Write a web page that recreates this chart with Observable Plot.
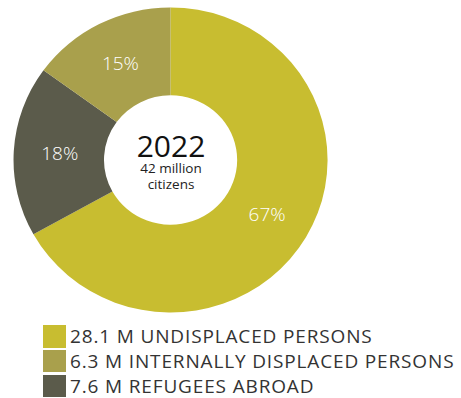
<!DOCTYPE html>
<html>
<head>
<meta charset="utf-8">
<script src="https://cdn.jsdelivr.net/npm/d3@7"></script>
<script src="https://cdn.jsdelivr.net/npm/@observablehq/plot@0.6"></script>
<style>
  html, body { margin: 0; padding: 0; background: #fff; }
  #chart { width: 461px; }
  .legend { margin: 6px 0 0 43px; font-family: "Open Sans", sans-serif; font-size: 19px; color: #333; }
  .legend .row { display: flex; align-items: center; height: 24.8px; }
  .legend .sw { width: 23px; height: 22.5px; margin-right: 4px; flex: none; }
  .legend .lab { white-space: nowrap; letter-spacing: 0.85px; }
</style>
</head>
<body>
<div id="chart"></div>
<script>
// Data (clockwise from 12 o'clock)
const categories = ["UNDISPLACED PERSONS", "REFUGEES ABROAD", "INTERNALLY DISPLACED PERSONS"];
const values = [28.1, 7.6, 6.3];            // millions
const percents = ["67%", "18%", "15%"];
const colors = ["#c8bd30", "#5b5b4b", "#a9a04c"];
const legendOrder = [0, 2, 1];
const centerYear = "2022";
const centerLines = ["42 million", "citizens"];

const data = categories.map((c, i) => ({category: c, value: values[i], pct: percents[i], color: colors[i]}));
const pie = d3.pie().sort(null).value(d => d.value)(data);
const innerR = 0.4236;
const arc = d3.arc().innerRadius(innerR).outerRadius(1);
const labelArc = d3.arc().innerRadius(0.71).outerRadius(0.71);
const labels = pie.map(p => {
  const [cx, cy] = labelArc.centroid(p);
  return {x: cx, y: -cy, text: p.data.pct};
});

const donut = (index, scales, values, dimensions, context) => {
  const {x, y} = scales;
  const g = d3.create("svg:g")
    .attr("transform", `translate(${x(0)},${y(0)}) scale(${x(1) - x(0)},${y(-1) - y(0)})`);
  g.selectAll("path").data(pie).join("path")
    .attr("d", arc)
    .attr("fill", d => d.data.color);
  return g.node();
};

const chart = Plot.plot({
  width: 461,
  height: 318,
  marginLeft: 13.5,
  marginRight: 133.5,
  marginTop: 7.5,
  marginBottom: 5.5,
  x: {domain: [-1, 1], axis: null},
  y: {domain: [-1, 1], axis: null},
  style: {fontFamily: "Open Sans, sans-serif", background: "#fff"},
  marks: [
    donut,
    Plot.text(labels, {x: "x", y: "y", text: "text", fill: "#fff", fontSize: 19, fontWeight: 300}),
    Plot.text([centerYear], {x: () => 0, y: () => 0, text: d => d, fontSize: 30, fill: "#111", dy: -13}),
    Plot.text([centerLines[0]], {x: () => 0, y: () => 0, text: d => d, fontSize: 13.5, fill: "#222", dy: 8}),
    Plot.text([centerLines[1]], {x: () => 0, y: () => 0, text: d => d, fontSize: 13.5, fill: "#222", dy: 24})
  ]
});
document.getElementById("chart").appendChild(chart);

const legend = d3.select("#chart").append("div").attr("class", "legend");
legendOrder.forEach(i => {
  const row = legend.append("div").attr("class", "row");
  row.append("div").attr("class", "sw").style("background", colors[i]);
  row.append("span").attr("class", "lab").text(`${values[i]} M ${categories[i]}`);
});
</script>
</body>
</html>
